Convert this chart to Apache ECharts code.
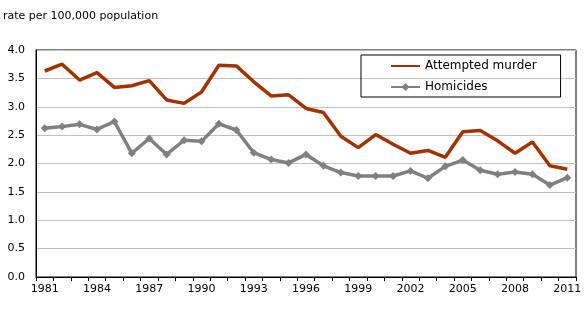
<!DOCTYPE html>
<html>
<head>
<meta charset="utf-8">
<script src="https://cdn.jsdelivr.net/npm/echarts@6/dist/echarts.min.js"></script>
<style>
  html, body { margin: 0; padding: 0; background: #fff; }
  #chart { width: 585px; height: 330px; }
</style>
</head>
<body>
<div id="chart"></div>
<script>
// Years 1981–2011
const years = [];
for (let y = 1981; y <= 2011; y++) years.push(String(y));

// Rates per 100,000 population
const attemptedMurder = [3.63, 3.75, 3.47, 3.60, 3.34, 3.37, 3.46, 3.12, 3.06, 3.26,
  3.73, 3.72, 3.44, 3.19, 3.21, 2.97, 2.90, 2.48, 2.28, 2.51,
  2.34, 2.18, 2.23, 2.11, 2.56, 2.58, 2.40, 2.18, 2.38, 1.96, 1.90];
const homicides = [2.62, 2.65, 2.69, 2.60, 2.74, 2.18, 2.44, 2.16, 2.41, 2.39,
  2.70, 2.59, 2.19, 2.07, 2.01, 2.16, 1.96, 1.84, 1.78, 1.78,
  1.78, 1.87, 1.74, 1.95, 2.06, 1.88, 1.81, 1.85, 1.81, 1.62, 1.75];

const yTicks = ['0.0', '0.5', '1.0', '1.5', '2.0', '2.5', '3.0', '3.5', '4.0'];

const font = 'DejaVu Sans, Verdana, sans-serif';
const chart = echarts.init(document.getElementById('chart'), null, { renderer: 'canvas' });

chart.setOption({
  animation: false,
  backgroundColor: '#ffffff',
  title: {
    text: 'rate per 100,000 population',
    left: 3, top: 11, padding: 0,
    textStyle: { fontFamily: font, fontSize: 11, fontWeight: 'normal', color: '#000' }
  },
  grid: {
    left: 36, right: 9, top: 50, bottom: 53,
    show: true, borderColor: '#000', borderWidth: 1, backgroundColor: 'transparent'
  },
  legend: {
    orient: 'vertical',
    left: 361, top: 55,
    padding: [5, 24, 4, 29],
    itemGap: 9,
    itemWidth: 29, itemHeight: 10,
    borderColor: '#000', borderWidth: 1,
    textStyle: { fontFamily: font, fontSize: 12, color: '#000' },
    data: [
      { name: 'Attempted murder', itemStyle: { opacity: 0 } },
      { name: 'Homicides' }
    ]
  },
  xAxis: {
    type: 'category',
    data: years,
    boundaryGap: true,
    axisLine: { lineStyle: { color: '#000', width: 1 } },
    axisTick: { show: true, interval: 0, length: 4, lineStyle: { color: '#000' } },
    axisLabel: {
      interval: 2, margin: 7,
      fontFamily: font, fontSize: 11, color: '#000'
    },
    splitLine: { show: false }
  },
  yAxis: {
    type: 'value',
    min: 0, max: 4, interval: 0.5,
    axisLine: { show: true, lineStyle: { color: '#000', width: 1 } },
    axisTick: { show: false },
    axisLabel: {
      margin: 11, fontFamily: font, fontSize: 11, color: '#000',
      formatter: (v) => yTicks[Math.round(v / 0.5)]
    },
    splitLine: { lineStyle: { color: '#c0c0c0', width: 1 } }
  },
  series: [
    {
      name: 'Attempted murder',
      type: 'line',
      data: attemptedMurder,
      symbol: 'none',
      color: '#a33200',
      lineStyle: { width: 3.5, color: '#a33200' },
      z: 3
    },
    {
      name: 'Homicides',
      type: 'line',
      data: homicides,
      symbol: 'diamond',
      symbolSize: 8,
      showSymbol: true,
      color: '#808080',
      itemStyle: { color: '#808080' },
      lineStyle: { width: 3.5, color: '#808080' },
      z: 2
    }
  ]
});
</script>
</body>
</html>
